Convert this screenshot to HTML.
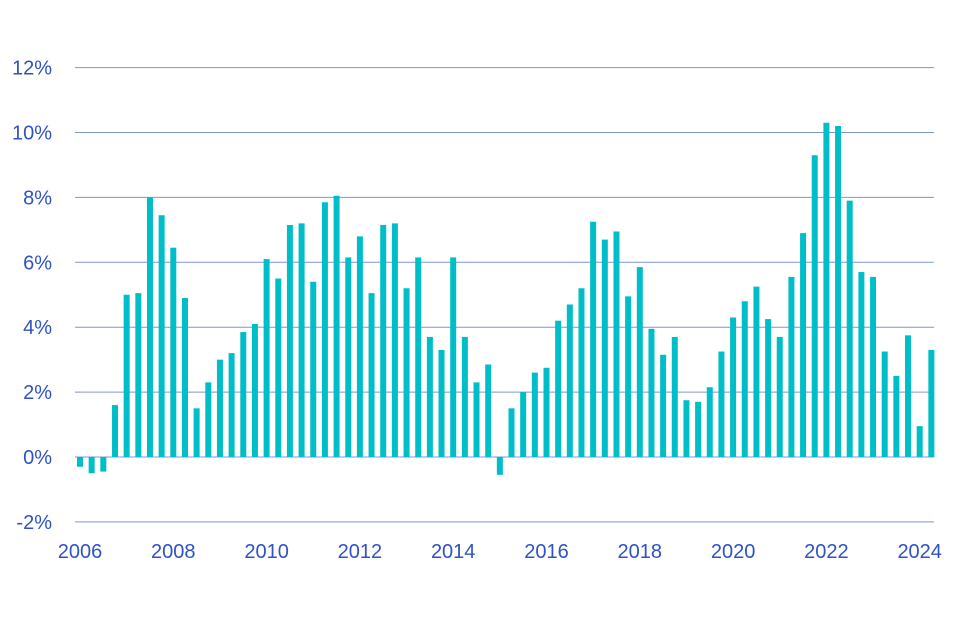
<!DOCTYPE html>
<html><head><meta charset="utf-8"><style>
html,body{margin:0;padding:0;background:#fff;}
svg{display:block;font-family:"Liberation Sans",sans-serif;}
</style></head><body>
<svg id="chart" width="960" height="640">
<g id="grid"></g>
<g id="yaxis"></g>
<g id="xaxis"></g>
<g id="bars"></g>
</svg>
<script>
const values = [-0.3,-0.5,-0.45,1.6,5.0,5.05,8.0,7.45,6.45,4.9,1.5,2.3,3.0,3.2,3.85,4.1,6.1,5.5,7.15,7.2,5.4,7.85,8.05,6.15,6.8,5.05,7.15,7.2,5.2,6.15,3.7,3.3,6.15,3.7,2.3,2.85,-0.55,1.5,2.0,2.6,2.75,4.2,4.7,5.2,7.25,6.7,6.95,4.95,5.85,3.95,3.15,3.7,1.75,1.7,2.15,3.25,4.3,4.8,5.25,4.25,3.7,5.55,6.9,9.3,10.3,10.2,7.9,5.7,5.55,3.25,2.5,3.75,0.95,3.3];
const yTicks = [-2,0,2,4,6,8,10,12];
const xTicks = [2006,2008,2010,2012,2014,2016,2018,2020,2022,2024];
const startYear = 2006;

const NS="http://www.w3.org/2000/svg";
const y = v => 457 - v*32.45;
const x = t => 80 + (t-startYear)*46.65; // t in years
const grid=document.getElementById('grid'), ya=document.getElementById('yaxis'), xa=document.getElementById('xaxis'), bars=document.getElementById('bars');
yTicks.forEach(v=>{
  const l=document.createElementNS(NS,'line');
  l.setAttribute('x1',75);l.setAttribute('x2',934);l.setAttribute('y1',y(v));l.setAttribute('y2',y(v));
  l.setAttribute('stroke','#7f95d8');l.setAttribute('stroke-width','1');
  
  
  grid.appendChild(l);
  const t=document.createElementNS(NS,'text');
  t.setAttribute('x',52);t.setAttribute('y',y(v)+7);t.setAttribute('text-anchor','end');
  t.setAttribute('font-size','20');t.setAttribute('fill','#2f52c4');
  t.textContent=v+'%';
  
  
  ya.appendChild(t);
});
xTicks.forEach(yr=>{
  const t=document.createElementNS(NS,'text');
  t.setAttribute('x',x(yr));t.setAttribute('y',558);t.setAttribute('text-anchor','middle');
  t.setAttribute('font-size','20');t.setAttribute('fill','#2f52c4');
  t.textContent=yr;
  
  
  xa.appendChild(t);
});
values.forEach((v,i)=>{
  const cx=x(startYear+i*0.25);
  const r=document.createElementNS(NS,'rect');
  r.setAttribute('x',cx-3);r.setAttribute('width',6);
  r.setAttribute('y',Math.min(y(v),y(0)));r.setAttribute('height',Math.abs(y(v)-y(0)));
  r.setAttribute('fill','#00bec8');
  
  
  bars.appendChild(r);
});
</script>
</body></html>
